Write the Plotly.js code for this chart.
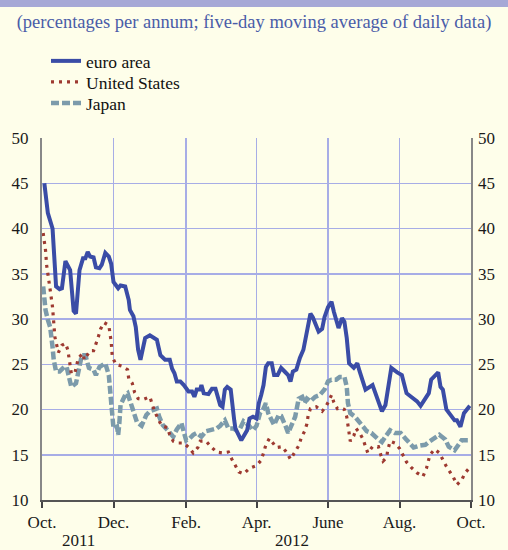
<!DOCTYPE html>
<html>
<head>
<meta charset="utf-8">
<script src="https://cdn.plot.ly/plotly-3.0.1.min.js"></script>
<style>
html,body{margin:0;padding:0;background:#fefeea;}
#chart{width:508px;height:550px;}
</style>
</head>
<body>
<div id="chart"></div>
<script>
// Day offsets counted from 1 October 2011, and values (percentages per annum)
const startDate = '2011-10-01';

const euroDays = [2,5,9,12,15,17,20,22,24,27,29,32,35,37,39,41,44,46,49,51,54,57,59,61,65,67,71,74,75,78,80,82,84,88,92,98,101,105,109,111,113,115,118,121,125,128,130,132,135,136,138,142,145,148,150,152,154,156,158,161,164,165,170,175,177,180,183,185,187,189,191,193,196,198,201,204,207,210,212,214,217,220,223,225,227,229,231,236,239,241,244,247,249,251,253,256,258,260,262,266,269,271,274,276,282,290,293,298,303,307,311,315,320,323,327,330,332,338,340,342,345,350,352,354,357,360,365];
const euroVals = [45.0,41.7,40.0,33.6,33.3,33.4,36.4,36.0,35.4,30.9,30.6,35.4,36.7,36.7,37.4,36.9,36.8,35.7,35.6,36.0,37.3,36.9,36.1,34.1,33.4,33.7,33.6,32.1,31.0,30.3,29.1,26.6,25.5,27.9,28.2,27.7,26.0,25.5,25.5,24.5,24.0,23.1,23.1,22.7,22.0,22.0,21.4,22.2,22.2,22.7,21.8,21.7,22.3,22.3,21.4,20.5,20.3,22.2,22.5,22.2,18.8,17.9,16.6,17.7,19.0,19.2,19.0,20.7,21.6,22.7,24.7,25.1,25.1,23.8,23.8,24.6,24.2,23.8,23.1,24.2,24.4,25.7,26.6,27.9,29.5,30.6,30.2,28.6,28.9,30.2,31.3,31.9,30.8,29.9,29.0,30.1,29.7,27.9,25.1,24.6,25.1,24.2,23.1,22.2,22.7,19.8,20.5,24.6,24.1,23.8,21.8,21.4,20.9,20.4,21.2,21.8,23.3,24.1,22.5,22.2,20.0,19.2,18.8,18.8,18.1,19.6,20.4];

const usDays = [1,2,3,4,5,7,9,10,11,14,17,20,22,24,25,28,31,35,36,41,44,48,50,53,57,59,60,63,68,73,74,77,79,82,86,92,94,96,99,102,107,109,112,116,121,126,129,133,135,140,144,149,154,159,162,165,168,172,177,183,187,189,191,194,197,200,205,209,212,216,219,221,224,226,227,229,234,239,242,245,247,249,252,255,258,260,261,262,263,266,268,271,274,276,278,282,287,289,291,294,295,297,301,305,308,311,315,320,325,328,331,335,339,342,345,348,351,354,358,361,365];
const usVals = [39.5,38.5,37.6,35.9,34.8,33.2,31.3,29.9,28.0,26.3,27.1,27.3,26.6,24.9,24.0,24.0,25.7,26.2,25.5,26.5,26.5,28.0,28.9,29.6,29.3,27.5,25.8,25.0,24.8,24.4,23.4,22.9,21.9,21.2,21.1,21.4,20.6,19.8,19.0,18.2,18.0,17.2,16.5,16.3,16.3,15.7,15.2,15.8,16.5,16.5,15.9,15.3,15.2,15.3,14.5,13.7,13.1,12.9,13.5,13.8,14.4,15.2,16.1,16.8,16.3,15.8,15.9,15.2,14.5,15.3,16.0,16.8,17.6,18.4,19.3,20.1,20.3,19.8,20.3,21.0,21.6,20.8,20.1,20.2,20.0,19.2,18.3,17.4,16.5,17.1,17.9,17.4,16.7,15.9,15.2,15.9,15.9,15.0,14.3,14.7,15.5,16.5,16.3,15.7,15.0,14.2,13.6,13.0,12.6,13.5,15.0,15.6,15.2,14.4,13.7,13.1,12.5,11.7,12.2,13.0,13.6];

const japanDays = [1,2,3,5,7,9,10,12,15,19,21,23,25,29,31,34,37,40,44,46,49,54,57,58,59,60,61,64,65,66,67,71,73,75,78,81,85,89,92,98,100,103,108,112,115,119,121,123,126,129,132,136,140,145,149,152,156,159,163,166,169,172,176,180,183,186,189,191,193,196,198,202,204,208,210,213,216,219,222,224,226,229,233,237,241,244,247,251,254,258,260,261,263,267,270,274,277,281,286,290,293,297,301,306,310,314,317,322,327,331,335,339,344,347,352,355,358,362,365];
const japanVals = [33.6,32.1,31.0,29.9,29.1,26.9,25.5,24.2,24.2,24.7,24.7,23.6,22.5,22.9,24.2,26.0,26.0,24.6,24.4,23.8,24.7,25.1,23.8,22.5,20.7,18.8,17.9,18.1,17.2,18.5,20.5,21.6,21.8,21.0,19.6,18.6,18.2,19.4,19.8,20.1,19.2,18.3,17.6,17.0,17.8,18.5,17.5,16.6,16.8,17.2,17.4,17.0,17.6,17.7,17.9,18.2,18.8,17.9,17.9,17.7,17.9,18.7,18.3,17.7,18.2,19.6,20.1,20.7,19.6,18.8,18.3,19.4,19.3,18.1,17.4,18.3,19.2,21.2,21.4,20.7,21.2,20.9,21.4,21.6,22.2,23.1,23.3,23.3,23.6,23.6,22.5,20.7,19.6,19.2,18.8,18.1,17.6,17.4,16.8,16.4,17.0,17.7,17.4,17.4,16.8,16.2,15.8,16.0,16.1,16.5,16.9,17.2,16.7,15.9,15.5,16.1,16.6,16.6,16.6];

const tickDates = ['2011-10-01','2011-12-01','2012-02-01','2012-04-01','2012-06-01','2012-08-01','2012-10-01'];
const tickLabels = ['Oct.','Dec.','Feb.','Apr.','June','Aug.','Oct.'];
const yearLabels = ['2011','2012'];
const yearPositions = ['2011-11-01','2012-05-01'];
const yTicks = [10,15,20,25,30,35,40,45,50];

const seriesNames = ['euro area','United States','Japan'];

function toDates(days){
  const base = Date.parse(startDate + 'T00:00:00Z');
  return days.map(d => new Date(base + d*86400000).toISOString().slice(0,10));
}

const FONT = 'Liberation Serif, Times New Roman, serif';
const BG = '#fefeea';
const GRID = '#a7ade6';

const traces = [
  {x: toDates(japanDays), y: japanVals, name: seriesNames[2], mode:'lines', legend:'legend3',
   line:{color:'#7c9bab', width:4.5, dash:'8px,3px'}, hoverinfo:'skip'},
  {x: toDates(usDays), y: usVals, name: seriesNames[1], mode:'lines', legend:'legend2',
   line:{color:'#9e3a31', width:3.2, dash:'3px,5px'}, hoverinfo:'skip'},
  {x: toDates(euroDays), y: euroVals, name: seriesNames[0], mode:'lines', legend:'legend',
   line:{color:'#3a4ca6', width:4}, hoverinfo:'skip'},
  {x:[null], y:[null], yaxis:'y2', showlegend:false, hoverinfo:'skip', mode:'lines'}
];

function legendAt(yCenter){
  return {x:46/508, xref:'container', xanchor:'left', y:1-yCenter/550, yref:'container', yanchor:'middle',
          bgcolor:'rgba(0,0,0,0)', borderwidth:0, font:{family:FONT, size:17.5, color:'#111'}};
}

const layout = {
  width:508, height:550,
  paper_bgcolor: BG, plot_bgcolor: BG,
  margin:{l:42, r:37, t:138, b:50, autoexpand:false},
  font:{family:FONT, size:16, color:'#1a1a1a'},
  showlegend:true,
  title:{text:'(percentages per annum; five-day moving average of daily data)',
         font:{family:FONT, size:18.5, color:'#4a5ca8'},
         x:0.5, xref:'container', xanchor:'center', y:1-22/550, yref:'container', yanchor:'middle'},
  legend: legendAt(61),
  legend2: legendAt(82),
  legend3: legendAt(103),
  xaxis:{type:'date', range:['2011-10-01','2012-10-01'], tickvals:tickDates, ticktext:tickLabels,
         showgrid:true, gridcolor:GRID, gridwidth:1.5, zeroline:false,
         showline:true, linecolor:'#555', linewidth:2, ticks:'outside', ticklen:6, tickwidth:2, tickcolor:'#444',
         tickfont:{family:FONT, size:17, color:'#1a1a1a'}, fixedrange:true},
  yaxis:{range:[10,50], tickvals:yTicks, showgrid:true, gridcolor:GRID, gridwidth:1.5, zeroline:false,
         showline:true, mirror:true, linecolor:'#888', linewidth:2, ticks:'', ticklabelstandoff:8,
         tickfont:{family:FONT, size:17, color:'#1a1a1a'}, fixedrange:true},
  yaxis2:{range:[10,50], tickvals:yTicks, overlaying:'y', side:'right', showgrid:false, zeroline:false,
          showline:false, ticks:'', ticklabelstandoff:6,
          tickfont:{family:FONT, size:17, color:'#1a1a1a'}, fixedrange:true},
  annotations: yearLabels.map((t,i)=>({text:t, x:yearPositions[i], xref:'x', y:-40/362, yref:'paper',
          showarrow:false, xanchor:'center', yanchor:'middle', font:{family:FONT, size:17, color:'#1a1a1a'}})),
  shapes:[{type:'rect', xref:'paper', yref:'paper', x0:-42/429, x1:1+37/429, y0:1+131/362, y1:1+138/362,
           fillcolor:'#a6a8d6', line:{width:0}, layer:'above'}]
};

Plotly.newPlot('chart', traces, layout, {staticPlot:true, displayModeBar:false});
</script>
</body>
</html>
